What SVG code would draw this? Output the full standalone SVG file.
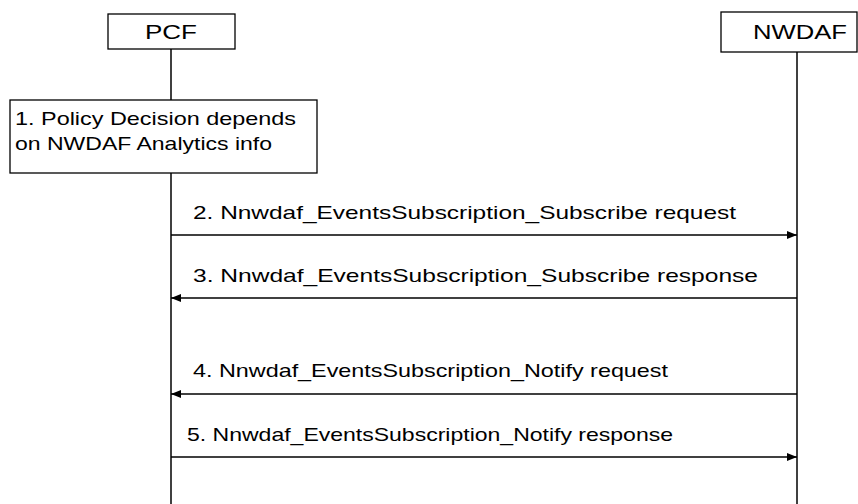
<svg xmlns="http://www.w3.org/2000/svg" width="858" height="504" viewBox="0 0 858 504">
<style>
.box{fill:#fff;stroke:#000;stroke-width:1.3}
.life{stroke:#000;stroke-width:1.5;fill:none}
.msg{stroke:#000;stroke-width:1.5;fill:none}
text{font-family:"Liberation Sans",Arial,sans-serif;fill:#000}
.t{font-size:18.5px}
.h{font-size:21px}
</style>
<defs>
<marker id="ah" markerWidth="10" markerHeight="8" refX="10" refY="4" orient="auto" markerUnits="userSpaceOnUse">
<path d="M0,0 L10,4 L0,8 Z" fill="#000"/>
</marker>
</defs>
<g id="lifelines">
<line class="life" x1="171" y1="49" x2="171" y2="100"/>
<line class="life" x1="171" y1="173" x2="171" y2="504"/>
<line class="life" x1="797" y1="52" x2="797" y2="504"/>
</g>
<g id="pcf">
<rect class="box" x="108" y="14" width="127" height="35"/>
<text class="h" x="145" y="39" textLength="52" lengthAdjust="spacingAndGlyphs">PCF</text>
</g>
<g id="nwdaf">
<rect class="box" x="721" y="12" width="136" height="40"/>
<text class="h" x="753" y="39" textLength="94" lengthAdjust="spacingAndGlyphs">NWDAF</text>
</g>
<g id="step1">
<rect class="box" x="10" y="100" width="307" height="73"/>
<text class="t" x="15" y="125" textLength="281" lengthAdjust="spacingAndGlyphs">1. Policy Decision depends</text>
<text class="t" x="15" y="150" textLength="257" lengthAdjust="spacingAndGlyphs">on NWDAF Analytics info</text>
</g>
<g id="connectors">
<line class="msg" x1="171" y1="235" x2="797" y2="235" marker-end="url(#ah)"/>
<line class="msg" x1="797" y1="298" x2="171" y2="298" marker-end="url(#ah)"/>
<line class="msg" x1="797" y1="394" x2="171" y2="394" marker-end="url(#ah)"/>
<line class="msg" x1="171" y1="457" x2="797" y2="457" marker-end="url(#ah)"/>
<text class="t" x="193" y="219" textLength="543" lengthAdjust="spacingAndGlyphs">2. Nnwdaf_EventsSubscription_Subscribe request</text>
<text class="t" x="193" y="282" textLength="565" lengthAdjust="spacingAndGlyphs">3. Nnwdaf_EventsSubscription_Subscribe response</text>
<text class="t" x="193" y="377" textLength="475" lengthAdjust="spacingAndGlyphs">4. Nnwdaf_EventsSubscription_Notify request</text>
<text class="t" x="187" y="441" textLength="486" lengthAdjust="spacingAndGlyphs">5. Nnwdaf_EventsSubscription_Notify response</text>
</g>
</svg>
